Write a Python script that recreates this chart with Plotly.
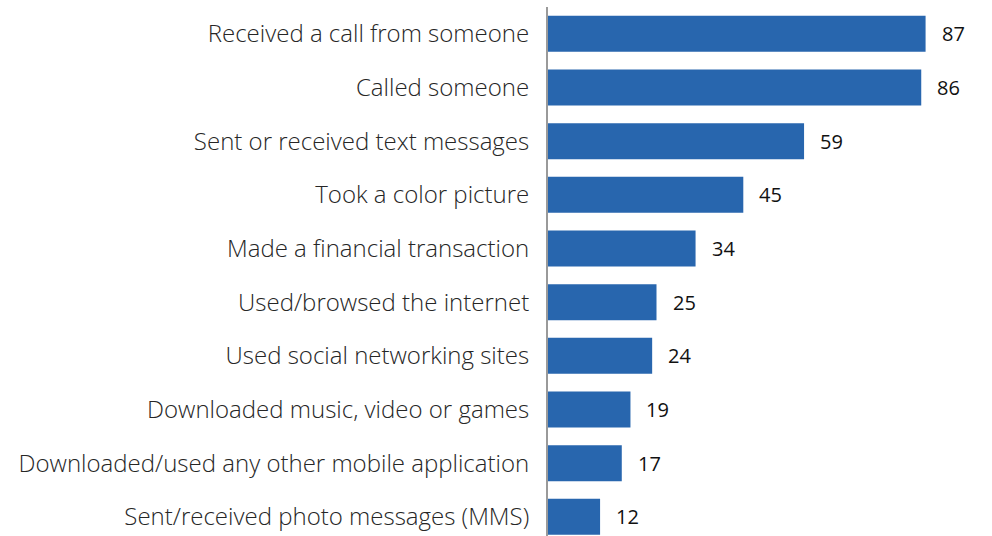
import plotly.graph_objects as go

activities = [
    "Received a call from someone",
    "Called someone",
    "Sent or received text messages",
    "Took a color picture",
    "Made a financial transaction",
    "Used/browsed the internet",
    "Used social networking sites",
    "Downloaded music, video or games",
    "Downloaded/used any other mobile application",
    "Sent/received photo messages (MMS)",
]
shares = [87, 86, 59, 45, 34, 25, 24, 19, 17, 12]

BAR_COLOR = "#2866AE"

fig = go.Figure(
    go.Bar(
        x=shares,
        y=list(range(len(activities))),
        orientation="h",
        marker=dict(color=BAR_COLOR, line=dict(width=0)),
        width=0.67,
        hoverinfo="skip",
    )
)

# value labels to the right of each bar
for i, v in enumerate(shares):
    fig.add_annotation(
        x=v, y=i, text=str(v), showarrow=False,
        xanchor="left", yanchor="middle", xshift=14,
        font=dict(family="Open Sans", size=20, color="#111111"),
    )

fig.update_layout(
    width=992, height=536,
    margin=dict(l=548, r=10, t=7, b=0),
    paper_bgcolor="white", plot_bgcolor="white",
    showlegend=False,
    xaxis=dict(range=[0, 100], visible=False, fixedrange=True),
    yaxis=dict(
        tickmode="array",
        tickvals=list(range(len(activities))),
        ticktext=activities,
        range=[9.357, -0.5],
        showgrid=False, zeroline=False,
        showline=True, linecolor="#9A9A9A", linewidth=2,
        ticks="", ticklabelstandoff=12,
        tickfont=dict(family="Open Sans", size=24, color="#262626", weight=300),
        fixedrange=True,
    ),
)

fig.write_html("out.html")
